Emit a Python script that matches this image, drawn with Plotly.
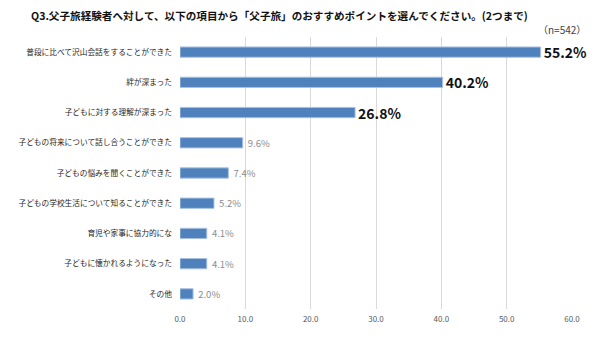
import plotly.graph_objects as go

categories = [
    "普段に比べて沢山会話をすることができた",
    "絆が深まった",
    "子どもに対する理解が深まった",
    "子どもの将来について話し合うことができた",
    "子どもの悩みを聞くことができた",
    "子どもの学校生活について知ることができた",
    "育児や家事に協力的にな",
    "子どもに懐かれるようになった",
    "その他",
]
values = [55.2, 40.2, 26.8, 9.6, 7.4, 5.2, 4.1, 4.1, 2.0]
tick_vals = [0, 10, 20, 30, 40, 50, 60]
tick_text = ["0.0", "10.0", "20.0", "30.0", "40.0", "50.0", "60.0"]

FONT = "Noto Sans CJK JP"
top = [v >= 20 for v in values]
texts = [f"<b>{v:.1f}%</b>" if t else f" {v:.1f}%" for v, t in zip(values, top)]
tsizes = [14 if t else 9.5 for t in top]
tcolors = ["#111111" if t else "#8c8c8c" for t in top]

W, H = 600, 348
l, r, t, b = 180, 28, 37, 39
pw, ph = W - l - r, H - t - b

def px(x):
    return (x - l) / pw

def py(y):
    return 1 - (y - t) / ph

fig = go.Figure(go.Bar(
    x=values, y=categories, orientation="h",
    marker=dict(color="#4f81bd", line=dict(color="#a9c1e3", width=1)),
    width=0.34,
    text=texts, textposition="outside", cliponaxis=False, constraintext="none",
    textfont=dict(size=tsizes, color=tcolors, family=FONT),
))

fig.update_layout(
    width=W, height=H,
    margin=dict(l=l, r=r, t=t, b=b, autoexpand=False),
    paper_bgcolor="white", plot_bgcolor="white",
    font=dict(family=FONT),
    showlegend=False,
    xaxis=dict(range=[0, 60], tickvals=tick_vals, ticktext=tick_text,
               showgrid=True, gridcolor="#d9d9d9", gridwidth=1,
               zeroline=False, showline=False, automargin=False,
               tickfont=dict(size=8, color="#595959"), ticks="", ticklabelstandoff=4),
    yaxis=dict(autorange="reversed", showgrid=False, zeroline=False,
               showline=False, ticks="", automargin=False,
               tickfont=dict(size=7.7, color="#262626"), ticklabelstandoff=7),
    annotations=[
        dict(text="<b>Q3.父子旅経験者へ対して、以下の項目から「父子旅」のおすすめポイントを選んでください。(2つまで)</b>",
             x=px(279.5), y=py(15), xref="paper", yref="paper", showarrow=False,
             xanchor="center", yanchor="middle", font=dict(size=10.6, color="#111111", family=FONT)),
        dict(text="（n=542）", x=px(588), y=py(29), xref="paper", yref="paper", showarrow=False,
             xanchor="right", yanchor="middle", font=dict(size=10, color="#404040", family=FONT)),
    ],
)

fig.write_html("out.html")
